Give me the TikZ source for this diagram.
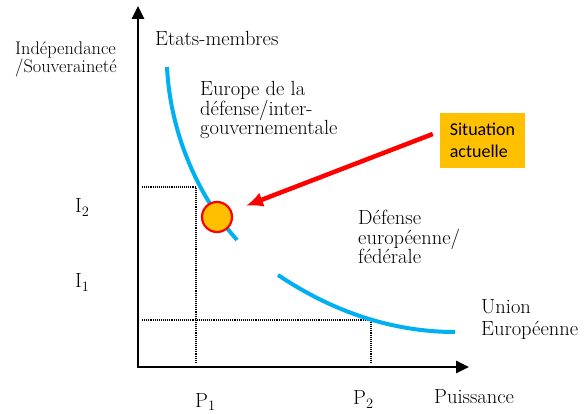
\documentclass[tikz,border=0pt]{standalone}
\usepackage{fontspec}
\newfontfamily\calibri{Carlito}
\usepackage{tikz}
\usetikzlibrary{arrows.meta,positioning}
\definecolor{bleucourbe}{RGB}{0,176,240}
\definecolor{jaunesit}{RGB}{255,192,0}

\begin{document}
\begin{tikzpicture}[x=1pt,y=1pt,yscale=-1,
	lbl/.style={font=\fontsize{20.5}{19.5}\selectfont, align=left, inner sep=0pt},
	axe/.style={line width=2.6pt, {Triangle[length=13pt,width=12pt]}-{Triangle[length=13pt,width=12pt]}},
	pointille/.style={densely dotted, line width=1.1pt},
	courbe/.style={color=bleucourbe, line width=4pt},
	fleche/.style={red, line width=4.5pt, -{Latex[length=17pt,width=15pt]}, shorten >=15pt}]
	\useasboundingbox (0,0) rectangle (587,414);
	
	% axes
	\coordinate (ytop) at (138,6);
	\coordinate (O) at (138,367);
	\coordinate (xend) at (469,367);
	\draw[axe] (ytop) -- (O) -- (xend);
	
	% niveaux
	\coordinate (i2) at (142,187);
	\coordinate (c1) at (196,187);
	\coordinate (p1) at (196,363);
	\coordinate (i1) at (142,320);
	\coordinate (c2) at (371,320);
	\coordinate (p2) at (371,363);
	\draw[pointille] (i2) -- (c1) -- (p1);
	\draw[pointille] (i1) -- (c2) -- (p2);
	
	% courbes
	\draw[courbe] (167,67) .. controls (170,130) and (196,194) .. (237,240);
	\draw[courbe] (278,275) .. controls (330,310) and (390,332) .. (455,332);
	
	\node[circle, draw=red, fill=jaunesit, line width=2.2pt, minimum size=30pt, inner sep=0pt] (sit) at (217,217) {};
	\node[fill=jaunesit, font=\calibri\fontsize{18}{22}\selectfont, align=left, minimum width=85pt, minimum height=55pt] (boite) at (482.5,140.5) {Situation\\actuelle};
	\draw[fleche] ([xshift=-7pt,yshift=-6.5pt]boite.west) -- (sit);
	
	% textes (ancre base = derniere ligne)
	\node[lbl, font=\fontsize{18.3}{16}\selectfont, anchor=base west] (indep) at (15,73) {Indépendance\\/Souveraineté};
	\node[lbl, anchor=base west] (etats) at (155,46) {Etats-membres};
	\node[lbl, anchor=base west] (inter) at (200,135) {Europe de la\\défense/inter-\\gouvernementale};
	\node[lbl, anchor=base west] (fede) at (358,264) {Défense\\européenne/\\fédérale};
	\node[lbl, font=\fontsize{20.5}{22.5}\selectfont, anchor=base west] (ue) at (481,336) {Union\\Européenne};
	\node[lbl, anchor=base west] (I2) at (75,213) {I$_2$};
	\node[lbl, anchor=base west] (I1) at (75,288) {I$_1$};
	\node[lbl, anchor=base west] (P1) at (195,407) {P$_1$};
	\node[lbl, anchor=base west] (P2) at (353,405) {P$_2$};
	\node[lbl, anchor=base west] (puis) at (434,403) {Puissance};
\end{tikzpicture}
\end{document}
